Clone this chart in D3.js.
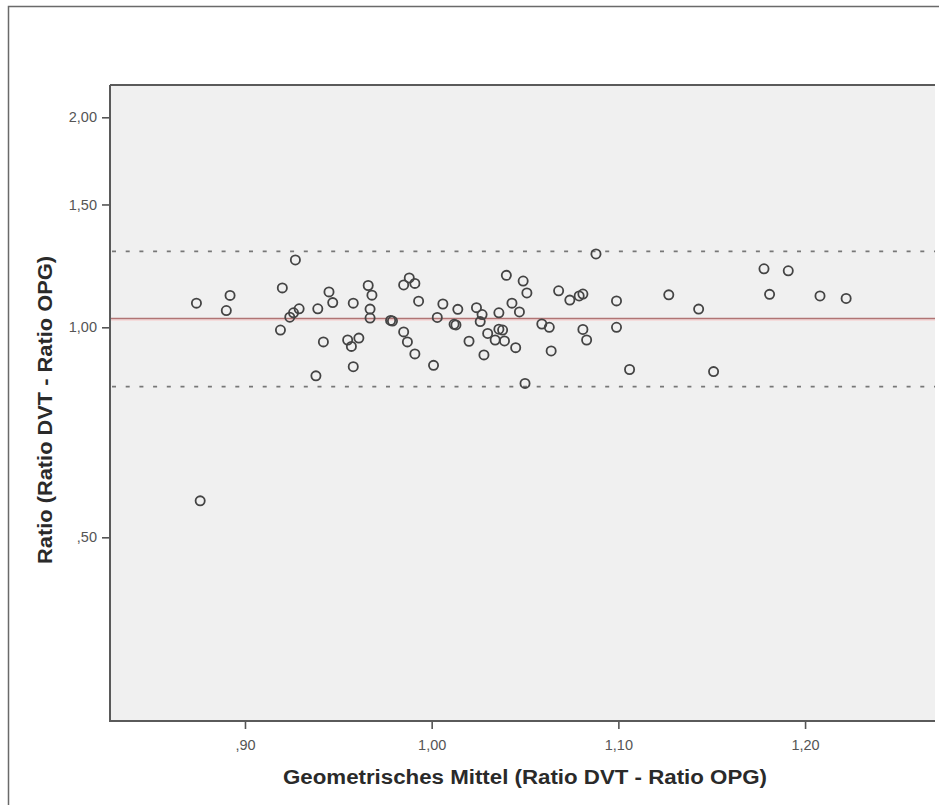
<!DOCTYPE html>
<html>
<head>
<meta charset="utf-8">
<script src="https://cdn.jsdelivr.net/npm/d3@7"></script>
<style>
  html, body { margin: 0; padding: 0; background: #ffffff; }
  svg { display: block; }
</style>
</head>
<body>
<script>
// ---- Data ----
const geoMean = [
  0.874, 0.876, 0.892, 0.890, 0.919, 0.920, 0.927, 0.924, 0.926, 0.929,
  0.939, 0.938, 0.942, 0.945, 0.947, 0.955, 0.957, 0.961, 0.958, 0.958,
  0.966, 0.968, 0.967, 0.967, 0.978, 0.979, 0.985, 0.987, 0.991, 0.985,
  0.988, 0.991, 0.993, 1.001, 1.006, 1.003, 1.014, 1.012, 1.013, 1.020,
  1.024, 1.027, 1.026, 1.030, 1.028, 1.034, 1.036, 1.036, 1.038, 1.039,
  1.040, 1.043, 1.047, 1.045, 1.049, 1.051, 1.050, 1.059, 1.063, 1.064,
  1.068, 1.074, 1.079, 1.081, 1.081, 1.083, 1.088, 1.099, 1.099, 1.106,
  1.127, 1.143, 1.151, 1.178, 1.191, 1.181, 1.208, 1.222
];
const ratio = [
  1.083, 0.564, 1.111, 1.057, 0.991, 1.139, 1.249, 1.034, 1.049, 1.063,
  1.063, 0.852, 0.953, 1.124, 1.085, 0.959, 0.939, 0.965, 1.083, 0.878,
  1.148, 1.112, 1.062, 1.031, 1.023, 1.021, 0.985, 0.953, 0.916, 1.150,
  1.177, 1.156, 1.090, 0.882, 1.080, 1.033, 1.061, 1.010, 1.008, 0.955,
  1.067, 1.043, 1.019, 0.980, 0.913, 0.959, 1.049, 0.994, 0.991, 0.956,
  1.187, 1.083, 1.052, 0.935, 1.165, 1.120, 0.831, 1.011, 1.000, 0.925,
  1.128, 1.094, 1.109, 1.116, 0.993, 0.959, 1.274, 1.091, 1.000, 0.870,
  1.113, 1.062, 0.864, 1.213, 1.205, 1.115, 1.109, 1.100
];
const meanRatio = 1.0295;
const limitsOfAgreement = [1.285, 0.822];
const xTicks = [0.90, 1.00, 1.10, 1.20];
const yTicks = [0.50, 1.00, 1.50, 2.00];
const xDomain = [0.8277, 1.2696];
const yDomain = [0.2727, 2.225];
const xTitle = "Geometrisches Mittel (Ratio DVT - Ratio OPG)";
const yTitle = "Ratio (Ratio DVT - Ratio OPG)";

// ---- Layout ----
const W = 939, H = 805;
const plot = { left: 110, top: 85, right: 935, bottom: 721 };
const FONT = "'Liberation Sans', Arial, sans-serif";

const fmt = v => {
  let s = v.toFixed(2).replace(".", ",");
  if (s.startsWith("0,")) s = s.slice(1);
  return s;
};

const svg = d3.select("body").append("svg")
  .attr("width", W).attr("height", H)
  .style("font-family", FONT);

svg.append("rect").attr("width", W).attr("height", H).attr("fill", "#ffffff");

// outer frame (cut off at right and bottom)
svg.append("path")
  .attr("d", `M8.5,${H + 2} V6.5 H${W + 2}`)
  .attr("fill", "none").attr("stroke", "#6a6a6a").attr("stroke-width", 1.5);

const x = d3.scaleLinear().domain(xDomain).range([plot.left, plot.right]);
const y = d3.scaleLog().domain(yDomain).range([plot.bottom, plot.top]);

// plot background
svg.append("rect")
  .attr("x", plot.left).attr("y", plot.top)
  .attr("width", plot.right - plot.left).attr("height", plot.bottom - plot.top)
  .attr("fill", "#f0f0f0");

// axes
const xAxis = d3.axisBottom(x).tickValues(xTicks).tickFormat(fmt).tickSize(8).tickPadding(11);
const yAxis = d3.axisLeft(y).tickValues(yTicks).tickFormat(fmt).tickSize(8).tickPadding(5);

const gx = svg.append("g").attr("transform", `translate(0,${plot.bottom})`).call(xAxis);
const gy = svg.append("g").attr("transform", `translate(${plot.left},0)`).call(yAxis);
[gx, gy].forEach(g => {
  g.select(".domain").remove();
  g.selectAll(".tick line").attr("stroke", "#555").attr("stroke-width", 1.6);
  g.selectAll(".tick text")
    .attr("fill", "#555").style("font-size", "14.5px")
    .style("font-family", FONT);
});

// plot border
svg.append("path")
  .attr("d", `M${plot.left},${plot.top} H${plot.right} M${plot.left},${plot.top} V${plot.bottom} H${plot.right}`)
  .attr("fill", "none").attr("stroke", "#5a5a5a").attr("stroke-width", 2);

// reference lines
svg.append("defs").append("clipPath").attr("id", "clip")
  .append("rect").attr("x", plot.left + 1).attr("y", plot.top + 1)
  .attr("width", plot.right - plot.left).attr("height", plot.bottom - plot.top - 2);

const inner = svg.append("g").attr("clip-path", "url(#clip)");

inner.selectAll("line.loa").data(limitsOfAgreement).enter().append("line")
  .attr("class", "loa")
  .attr("x1", plot.left + 2).attr("x2", plot.right)
  .attr("y1", d => y(d)).attr("y2", d => y(d))
  .attr("stroke", "#777").attr("stroke-width", 1.7)
  .attr("stroke-dasharray", "4,9.7");

inner.append("line")
  .attr("x1", plot.left).attr("x2", plot.right)
  .attr("y1", y(meanRatio) + 1.6).attr("y2", y(meanRatio) + 1.6)
  .attr("stroke", "#f6d6d6").attr("stroke-width", 1.5);
inner.append("line")
  .attr("x1", plot.left).attr("x2", plot.right)
  .attr("y1", y(meanRatio)).attr("y2", y(meanRatio))
  .attr("stroke", "#b07474").attr("stroke-width", 1.6);

// points
const pts = geoMean.map((g, i) => ({ g, r: ratio[i] }));
inner.selectAll("circle").data(pts).enter().append("circle")
  .attr("cx", d => x(d.g)).attr("cy", d => y(d.r)).attr("r", 4.6)
  .attr("fill", "none").attr("stroke", "#444").attr("stroke-width", 1.8);

// axis titles
svg.append("text")
  .attr("x", 525).attr("y", 784)
  .attr("text-anchor", "middle")
  .attr("textLength", 484).attr("lengthAdjust", "spacingAndGlyphs")
  .style("font-size", "20px").style("font-weight", "bold").attr("fill", "#2a2a2a")
  .text(xTitle);

svg.append("text")
  .attr("transform", "translate(52,410) rotate(-90)")
  .attr("text-anchor", "middle")
  .attr("textLength", 308).attr("lengthAdjust", "spacingAndGlyphs")
  .style("font-size", "20px").style("font-weight", "bold").attr("fill", "#2a2a2a")
  .text(yTitle);
</script>
</body>
</html>
